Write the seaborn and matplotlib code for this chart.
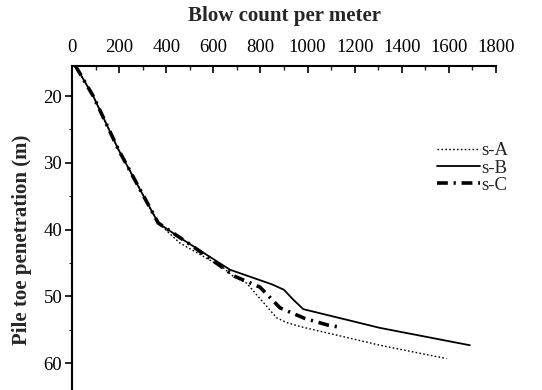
import matplotlib
matplotlib.use("Agg")
import matplotlib.pyplot as plt
from matplotlib.ticker import MultipleLocator
import seaborn as sns
import pandas as pd

# ---- data ----
common_blow = [15, 90, 197, 289, 366]
common_depth = [15.5, 20.0, 28.0, 34.0, 39.0]

sA_blow = [458, 642, 685, 741, 869, 911, 968, 1307, 1590]
sA_depth = [42.0, 45.7, 47.0, 48.0, 53.2, 53.9, 54.5, 57.3, 59.3]

sB_blow = [458, 671, 850, 900, 940, 982, 1307, 1689]
sB_depth = [41.2, 46.0, 48.2, 49.0, 50.5, 51.9, 54.7, 57.3]

sC_blow = [501, 692, 798, 883, 989, 1088, 1137]
sC_depth = [42.2, 47.0, 48.6, 51.7, 53.3, 54.3, 54.6]

series_names = ["s-A", "s-B", "s-C"]
x_ticks = [0, 200, 400, 600, 800, 1000, 1200, 1400, 1600, 1800]
y_ticks = [20, 30, 40, 50, 60]

sns.set_style("ticks")
plt.rcParams["font.family"] = ["Liberation Serif", "DejaVu Serif"]

rows = []
for name, bx, dy in zip(series_names, [sA_blow, sB_blow, sC_blow],
                        [sA_depth, sB_depth, sC_depth]):
    for i, (b, d) in enumerate(zip(common_blow + bx, common_depth + dy)):
        rows.append({"series": name, "blow": b, "depth": d, "order": i})
df = pd.DataFrame(rows)

fig = plt.figure(figsize=(5.42, 3.90), dpi=100)
ax = fig.add_axes([72 / 542, 0.0, (496 - 72) / 542, 1 - 66 / 390])

styles = {
    "s-A": dict(lw=1.0, dashes=(1.2, 1.6)),
    "s-B": dict(lw=1.3, dashes=None),
    "s-C": dict(lw=2.6, dashes=(3.0, 1.6, 0.6, 1.6)),
}
for name in series_names:
    sub = df[df["series"] == name].sort_values("order")
    sns.lineplot(data=sub, x="blow", y="depth", sort=False, estimator=None,
                 color="black", linewidth=styles[name]["lw"], ax=ax,
                 legend=False)
    line = ax.lines[-1]
    if styles[name]["dashes"] is not None:
        line.set_dashes(styles[name]["dashes"])
    line.set_label(name)

ax.set_xlim(0, 1800)
ax.set_ylim(64, 15.5)
ax.set_xticks(x_ticks)
ax.set_yticks(y_ticks)
ax.xaxis.set_minor_locator(MultipleLocator(100))
ax.yaxis.set_minor_locator(MultipleLocator(5))

ax.xaxis.tick_top()
ax.xaxis.set_label_position("top")
for s in ["right", "bottom"]:
    ax.spines[s].set_visible(False)
for s in ["top", "left"]:
    ax.spines[s].set_linewidth(1.5)
    ax.spines[s].set_color("black")

ax.tick_params(axis="x", which="major", direction="in", length=5, width=1.2,
               labelsize=13.5, pad=7, colors="black")
ax.tick_params(axis="x", which="minor", direction="in", length=3, width=1.0)
ax.tick_params(axis="y", which="major", direction="out", length=5, width=1.2,
               labelsize=13.5, pad=2, colors="black")
ax.tick_params(axis="y", which="minor", direction="out", length=2, width=0.8)

ax.set_xlabel("Blow count per meter", fontsize=15, fontweight="bold", labelpad=13)
ax.set_ylabel("Pile toe penetration (m)", fontsize=15, fontweight="bold")
ax.yaxis.set_label_coords(-0.094, 0.463)

leg = fig.legend(handles=ax.lines[:3], labels=series_names, loc="center left",
                 bbox_to_anchor=(437 / 542, 1 - 168 / 390), frameon=False,
                 fontsize=13.5, handlelength=2.3, handletextpad=0.05,
                 labelspacing=0.0, borderpad=0, borderaxespad=0)

fig.savefig("out.png", dpi=100, facecolor="white")
